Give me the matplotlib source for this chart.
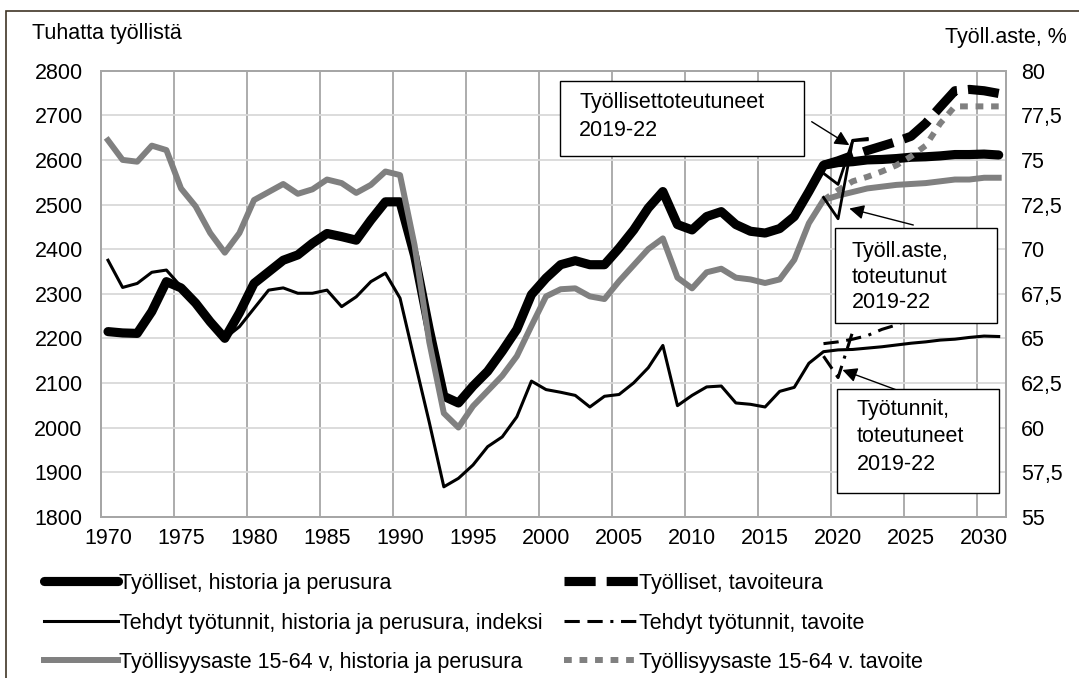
import matplotlib
matplotlib.use('Agg')
import matplotlib.pyplot as plt
from matplotlib.patches import Rectangle
from matplotlib.lines import Line2D

plt.rcParams['font.family'] = ['Liberation Sans', 'DejaVu Sans']

# ---------------- data ----------------
years = list(range(1970, 2032))
employed = [2215, 2212, 2211, 2260, 2327, 2313, 2279, 2237, 2200, 2257,
            2323, 2349, 2375, 2387, 2413, 2435, 2428, 2420, 2465, 2506,
            2506, 2385, 2220, 2070, 2055, 2093, 2126, 2171, 2220, 2298,
            2335, 2365, 2374, 2365, 2365, 2402, 2443, 2492, 2529, 2455,
            2443, 2473, 2484, 2455, 2440, 2436, 2446, 2473, 2529, 2588,
            2594, 2596, 2600, 2601, 2603, 2606, 2607, 2609, 2612, 2612,
            2613, 2611]
hours = [2375, 2314, 2323, 2348, 2353, 2316, 2280, 2237, 2200, 2226,
         2267, 2308, 2313, 2301, 2301, 2308, 2271, 2293, 2327, 2346,
         2290, 2150, 2012, 1867, 1886, 1916, 1957, 1979, 2024, 2104,
         2085, 2079, 2072, 2046, 2070, 2074, 2100, 2134, 2184, 2049,
         2072, 2091, 2093, 2055, 2052, 2046, 2081, 2090, 2144, 2170,
         2174, 2175, 2178, 2181, 2185, 2189, 2192, 2196, 2198, 2202,
         2205, 2204]
rate = [76.1, 75.0, 74.9, 75.8, 75.55, 73.4, 72.4, 70.9, 69.8, 70.9,
        72.75, 73.2, 73.65, 73.1, 73.35, 73.9, 73.7, 73.15, 73.6, 74.35,
        74.15, 70.2, 64.8, 60.8, 60.0, 61.2, 62.05, 62.9, 64.0, 65.7,
        67.35, 67.75, 67.8, 67.35, 67.2, 68.2, 69.1, 70.0, 70.6, 68.4,
        67.8, 68.7, 68.9, 68.4, 68.3, 68.1, 68.3, 69.4, 71.45, 72.75,
        73.0, 73.2, 73.4, 73.5, 73.6, 73.65, 73.7, 73.8, 73.9, 73.9,
        74.0, 74.0]

target_years = list(range(2019, 2032))
employed_target = [2588, 2598, 2610, 2621, 2631, 2641, 2653, 2682, 2719,
                   2755, 2758, 2755, 2749]
hours_target = [2188, 2192, 2198, 2206, 2220, 2230, 2245, 2265, 2290,
                2315, 2318, 2320, 2320]
rate_target = [72.75, 73.3, 73.8, 74.05, 74.35, 74.7, 75.2, 75.8, 77.05,
               78.0, 78.0, 78.0, 78.0]

real_years = [2019, 2020, 2021, 2022]
employed_real = [2570, 2545, 2643, 2645]
rate_real = [72.9, 71.7, 76.1, 76.2]
hours_real = [2160, 2112, 2215]

labels = ["Työlliset, historia ja perusura",
          "Tehdyt työtunnit, historia ja perusura, indeksi",
          "Työllisyysaste 15-64 v, historia ja perusura",
          "Työlliset, tavoiteura",
          "Tehdyt työtunnit, tavoite",
          "Työllisyysaste 15-64 v. tavoite"]
x_ticks = list(range(1970, 2031, 5))
left_ticks = list(range(1800, 2801, 100))
right_ticks = [55, 57.5, 60, 62.5, 65, 67.5, 70, 72.5, 75, 77.5, 80]

# ---------------- figure ----------------
W, H = 1079, 678
FS = 15.5
fig = plt.figure(figsize=(W / 100, H / 100), dpi=100)
ax = fig.add_axes([100.7 / W, 1 - 516.7 / H, (1006 - 100.7) / W, (516.7 - 70.7) / H])
ax2 = ax.twinx()

ax.set_xlim(1969.5, 2031.5)
ax.set_ylim(1800, 2800)
ax2.set_ylim(55, 80)

ax.set_xticks(x_ticks)
ax.set_xticks([x - 0.5 for x in x_ticks], minor=True)
ax.set_yticks(left_ticks)
ax2.set_yticks(right_ticks)
ax2.set_yticklabels([("%g" % v).replace('.', ',') for v in right_ticks])

ax.grid(axis='y', which='major', color='#d9d9d9', lw=1.3)
ax.grid(axis='x', which='minor', color='#a6a6a6', lw=1.3)
ax.grid(axis='x', which='major', visible=False)
ax.set_axisbelow(True)
for a in (ax, ax2):
    for s in a.spines.values():
        s.set_color('#a6a6a6')
        s.set_linewidth(1.3)
ax.tick_params(axis='both', which='both', length=0, labelsize=FS)
ax.tick_params(axis='y', pad=13)
ax.tick_params(axis='x', pad=8)
ax2.tick_params(axis='y', length=0, labelsize=FS, pad=11)

# style definitions
THICK = 6.6
THIN = 2.2
GLW = 4.3
thick_dash = (3.4, 1.2)
thin_dashdot = (5, 2.5, 5, 2.5, 1, 2.5)
gray_dot = (1.3, 1.3)
GRAY = '#808080'

ax.plot(years, employed, color='black', lw=THICK, solid_capstyle='round', solid_joinstyle='round', zorder=3)
ax.plot(years, hours, color='black', lw=THIN, solid_joinstyle='round', zorder=3)
ax.plot(target_years, employed_target, color='black', lw=THICK, dashes=thick_dash, dash_capstyle='butt', zorder=4)
ax.plot(target_years, hours_target, color='black', lw=THIN, dashes=thin_dashdot, zorder=4)
ax.plot(real_years, employed_real, color='black', lw=2.0, zorder=5)
ax.plot(real_years[:3], hours_real, color='black', lw=THIN, dashes=thin_dashdot, zorder=5)

ax2.plot(years, rate, color=GRAY, lw=GLW, solid_joinstyle='round', zorder=3)
ax2.plot(target_years, rate_target, color=GRAY, lw=GLW, dashes=gray_dot, dash_capstyle='butt', zorder=4)
ax2.plot(real_years, rate_real, color='black', lw=2.0, zorder=5)

# axis titles
fig.text(31.7 / W, 1 - 33 / H, "Tuhatta työllistä", fontsize=FS, ha='left', va='center')
fig.text(1066.7 / W, 1 - 38 / H, "Työll.aste, %", fontsize=FS, ha='right', va='center')

# annotation boxes
def box(x0, y0, x1, y1, lines, tx, ty0, dy):
    fig.add_artist(Rectangle((x0 / W, 1 - y1 / H), (x1 - x0) / W, (y1 - y0) / H,
                             transform=fig.transFigure, facecolor='white',
                             edgecolor='black', lw=1.0, zorder=10))
    for i, t in enumerate(lines):
        fig.text(tx / W, 1 - (ty0 + i * dy) / H, t, fontsize=FS, ha='left',
                 va='center', zorder=11)

box(560, 80.7, 804.3, 156, ["Työllisettoteutuneet", "2019-22"], 579.3, 102.7, 27.5)
box(835, 228.3, 997.3, 323.3, ["Työll.aste,", "toteutunut", "2019-22"], 851.7, 251.7, 25.5)
box(837.3, 389.3, 999.3, 493.3, ["Työtunnit,", "toteutuneet", "2019-22"], 856.7, 410, 27)

arrow = dict(arrowstyle='-|>', color='black', lw=1.0, mutation_scale=22, shrinkA=0, shrinkB=0)
ax.annotate('', xy=(2020.77, 2633), xycoords='data', xytext=(811.7, H - 121.7),
            textcoords='figure pixels', arrowprops=arrow, zorder=12, annotation_clip=False)
ax.annotate('', xy=(2020.77, 2491), xycoords='data', xytext=(913.3, H - 225),
            textcoords='figure pixels', arrowprops=arrow, zorder=12, annotation_clip=False)
ax.annotate('', xy=(2020.3, 2129), xycoords='data', xytext=(896.7, H - 390),
            textcoords='figure pixels', arrowprops=arrow, zorder=12, annotation_clip=False)

# legend
handles = [
    Line2D([], [], color='black', lw=THICK, solid_capstyle='round'),
    Line2D([], [], color='black', lw=THIN),
    Line2D([], [], color=GRAY, lw=GLW),
    Line2D([], [], color='black', lw=THICK, dashes=thick_dash),
    Line2D([], [], color='black', lw=THIN, dashes=thin_dashdot),
    Line2D([], [], color=GRAY, lw=GLW, dashes=gray_dot),
]
fig.legend(handles, labels, ncol=2, loc='upper left',
           bbox_to_anchor=(44 / W, 1 - 573 / H), frameon=False, fontsize=FS,
           handlelength=3.45, handletextpad=0.05, columnspacing=0.98,
           labelspacing=0.86, borderaxespad=0, borderpad=0)

# chart border
fig.add_artist(Rectangle((6 / W, -0.1), 1.2, 0.1 + (H - 10.7) / H,
                         transform=fig.transFigure, fill=False,
                         edgecolor='#3f3526', lw=1.2, zorder=20))

fig.savefig('out.png', dpi=100)
